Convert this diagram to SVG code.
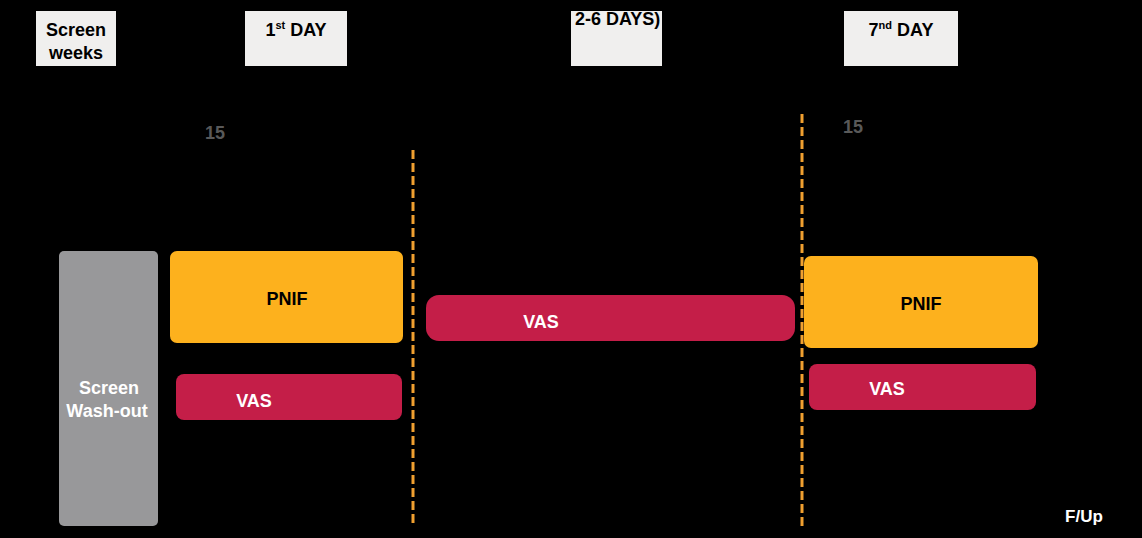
<svg xmlns="http://www.w3.org/2000/svg" width="1142" height="538" viewBox="0 0 1142 538">
<style>
text{font-family:"Liberation Sans",Arial,sans-serif;font-weight:bold}
.hdr{fill:#f0efee}
.ht{font-size:18px;fill:#000;text-anchor:middle}
.num{font-size:18px;fill:#595959}
.pnif{fill:#fdb11d}
.vas{fill:#c41e48}
.lbl{font-size:18px;text-anchor:middle}
.dash{stroke:#f0a030;stroke-width:3;stroke-dasharray:9 4;fill:none}
</style>
<rect width="1142" height="538" fill="#000"/>
<g id="hdr-screen"><rect class="hdr" x="36" y="11" width="80" height="55"/><text class="ht" x="76" y="36">Screen</text><text class="ht" x="76" y="59">weeks</text></g>
<g id="hdr-day1"><rect class="hdr" x="245" y="11" width="102" height="55"/><text class="ht" x="296" y="36">1<tspan font-size="11" dy="-7">st</tspan><tspan dy="7"> DAY</tspan></text></g>
<g id="hdr-day26"><rect class="hdr" x="571" y="11" width="91" height="55"/><text x="575" y="25" font-size="18">2-6 DAYS)</text></g>
<g id="hdr-day7"><rect class="hdr" x="844" y="11" width="114" height="55"/><text class="ht" x="901" y="36">7<tspan font-size="11" dy="-7">nd</tspan><tspan dy="7"> DAY</tspan></text></g>
<g id="num1"><text class="num" x="205" y="139">15</text></g>
<g id="num2"><text class="num" x="843" y="133">15</text></g>
<g id="connectors"><line class="dash" x1="413" y1="150" x2="413" y2="526"/><line class="dash" x1="802" y1="114" x2="802" y2="526"/></g>
<g id="screen"><rect x="59" y="251" width="99" height="275" rx="5" fill="#98989a"/><text class="lbl" x="109" y="394" fill="#fff">Screen</text><text class="lbl" x="107" y="417" fill="#fff">Wash-out</text></g>
<g id="pnif1"><rect class="pnif" x="170" y="251" width="233" height="92" rx="7"/><text class="lbl" x="287" y="305" fill="#000">PNIF</text></g>
<g id="vas1"><rect class="vas" x="176" y="374" width="226" height="46" rx="8"/><text class="lbl" x="254" y="407" fill="#fff">VAS</text></g>
<g id="vas2"><rect class="vas" x="426" y="295" width="369" height="46" rx="13"/><text class="lbl" x="541" y="328" fill="#fff">VAS</text></g>
<g id="pnif2"><rect class="pnif" x="804" y="256" width="234" height="92" rx="7"/><text class="lbl" x="921" y="310" fill="#000">PNIF</text></g>
<g id="vas3"><rect class="vas" x="809" y="364" width="227" height="46" rx="8"/><text class="lbl" x="887" y="395" fill="#fff">VAS</text></g>
<g id="fup"><text x="1084" y="522" font-size="17" fill="#fff" text-anchor="middle">F/Up</text></g>
</svg>
